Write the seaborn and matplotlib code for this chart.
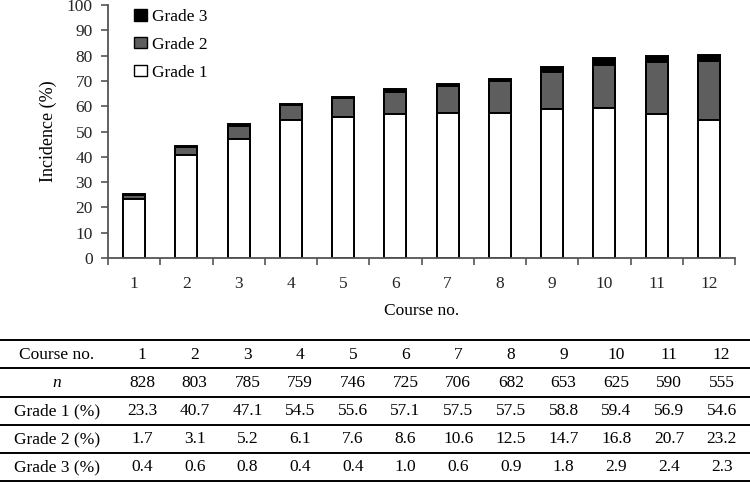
import matplotlib
matplotlib.use('Agg')
import matplotlib.pyplot as plt
import seaborn as sns
import pandas as pd
import numpy as np
from matplotlib.patches import Patch

courses = ['1', '2', '3', '4', '5', '6', '7', '8', '9', '10', '11', '12']
n_patients = [828, 803, 785, 759, 746, 725, 706, 682, 653, 625, 590, 555]
grade1 = [23.3, 40.7, 47.1, 54.5, 55.6, 57.1, 57.5, 57.5, 58.8, 59.4, 56.9, 54.6]
grade2 = [1.7, 3.1, 5.2, 6.1, 7.6, 8.6, 10.6, 12.5, 14.7, 16.8, 20.7, 23.2]
grade3 = [0.4, 0.6, 0.8, 0.4, 0.4, 1.0, 0.6, 0.9, 1.8, 2.9, 2.4, 2.3]
row_labels = ['Course no.', 'n', 'Grade 1 (%)', 'Grade 2 (%)', 'Grade 3 (%)']

sns.set_theme(style='ticks')
plt.rcParams['font.family'] = ['Liberation Serif', 'DejaVu Serif']
plt.rcParams['text.color'] = 'black'
plt.rcParams['axes.labelcolor'] = 'black'

W, H = 750, 483
fig = plt.figure(figsize=(W / 100, H / 100), dpi=100)
ax = fig.add_axes([108 / W, 1 - 258 / H, 627 / W, 253 / H])

df = pd.DataFrame(dict(course=courses, g1=grade1, g2=grade2, g3=grade3))
df['c2'] = df['g1'] + df['g2']
df['c3'] = df['c2'] + df['g3']

kw = dict(width=0.42, edgecolor='black', linewidth=1.4, ax=ax, order=courses,
          saturation=1, errorbar=None)
sns.barplot(data=df, x='course', y='c3', color='black', **kw)
sns.barplot(data=df, x='course', y='c2', color='#5e5e5e', **kw)
sns.barplot(data=df, x='course', y='g1', color='white', **kw)

ax.set_ylim(0, 100)
ax.set_xlim(-0.5, 11.5)
ax.set_yticks(np.arange(0, 101, 10))
ax.set_xticks(np.arange(12))
ax.set_xticklabels(courses)
ax.set_xticks(np.arange(-0.5, 12, 1), minor=True)
ax.tick_params(axis='x', which='major', length=0, pad=13, labelsize=12.5)
ax.tick_params(axis='x', which='minor', length=5, width=1.2, color='#555555', direction='out')
ax.tick_params(axis='y', which='major', length=5, width=1.2, color='#555555', direction='out',
               pad=6, labelsize=12.5)
sns.despine(ax=ax)
for s in ['left', 'bottom']:
    ax.spines[s].set_color('#555555')
    ax.spines[s].set_linewidth(1.3)
ax.set_xlabel('Course no.', fontsize=12.5, labelpad=8)
ax.set_ylabel('Incidence (%)', fontsize=13, labelpad=7)

handles = [Patch(facecolor='black', edgecolor='black', label='Grade 3'),
           Patch(facecolor='#5e5e5e', edgecolor='black', label='Grade 2'),
           Patch(facecolor='white', edgecolor='black', label='Grade 1')]
ax.legend(handles=handles, loc='upper left', bbox_to_anchor=(0.03, 1.012), frameon=False,
          fontsize=12.5, handlelength=0.75, handleheight=0.65, handletextpad=0.3,
          labelspacing=0.68, borderaxespad=0)

# table
tax = fig.add_axes([0, 0, 1, 1])
tax.set_xlim(0, W)
tax.set_ylim(H, 0)
tax.axis('off')
line_y = [340, 368, 397, 425, 453, 481]
tax.hlines(line_y, 0, W, colors='black', linewidth=1.4)
row_y = [355, 383, 411, 439, 467]
col_x = [142 + 52.7 * i for i in range(12)]
rows = [courses,
        [str(v) for v in n_patients],
        [f'{v:.1f}' for v in grade1],
        [f'{v:.1f}' for v in grade2],
        [f'{v:.1f}' for v in grade3]]
for r, (lab, vals) in enumerate(zip(row_labels, rows)):
    tax.text(57, row_y[r], lab, ha='center', va='center', fontsize=12.5,
             style='italic' if lab == 'n' else 'normal')
    for c, v in enumerate(vals):
        tax.text(col_x[c], row_y[r], v, ha='center', va='center', fontsize=12.5)

fig.savefig('out.png', dpi=100)
